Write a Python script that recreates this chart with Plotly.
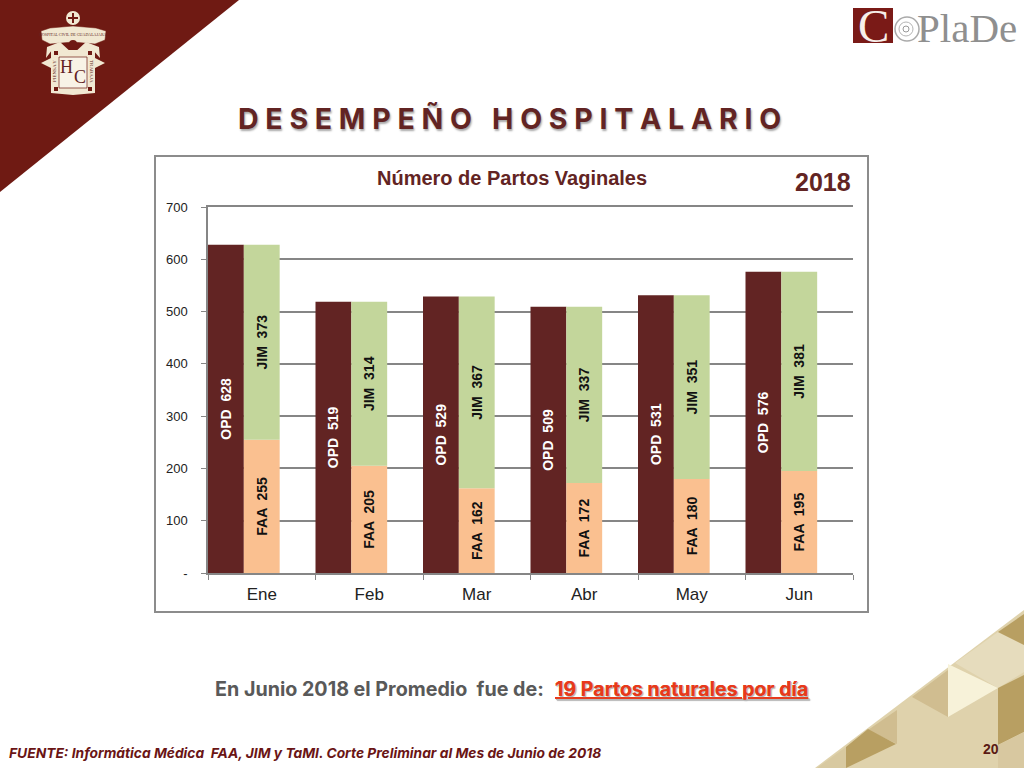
import plotly.graph_objects as go

# datos
meses = ["Ene", "Feb", "Mar", "Abr", "May", "Jun"]
opd = [628, 519, 529, 509, 531, 576]
jim = [373, 314, 367, 337, 351, 381]
faa = [255, 205, 162, 172, 180, 195]
y_ticks = [0, 100, 200, 300, 400, 500, 600, 700]
y_labels = ["-", "100", "200", "300", "400", "500", "600", "700"]

W, H = 1024, 768
GUINDA = "#6f1a13"
VINO = "#622423"
CREMA = "#f1e8d2"
ARIAL = "Liberation Sans, Arial, sans-serif"
GOTHIC = "Inter, Lato, sans-serif"
SERIF = "Liberation Serif, serif"


def px(x):
    return x / W


def py(y):
    return 1 - y / H


def poly(puntos, fill, line=None, width=0):
    path = "M " + " L ".join(f"{px(x):.5f} {py(y):.5f}" for x, y in puntos) + " Z"
    return dict(type="path", xref="paper", yref="paper", path=path, fillcolor=fill,
                line=dict(color=line or fill, width=width), layer="below")


def rect(x0, y0, x1, y1, fill="rgba(0,0,0,0)", line=None, width=0):
    return dict(type="rect", xref="paper", yref="paper", x0=px(x0), x1=px(x1),
                y0=py(y0), y1=py(y1), fillcolor=fill,
                line=dict(color=line or fill, width=width), layer="below")


def circ(cx, cy, r, fill="rgba(0,0,0,0)", line=None, width=0):
    return dict(type="circle", xref="paper", yref="paper", x0=px(cx - r), x1=px(cx + r),
                y0=py(cy + r), y1=py(cy - r), fillcolor=fill,
                line=dict(color=line or fill, width=width), layer="below")


def texto(x, y, s, size, color, family=GOTHIC, anchor="left", shadow=None, angle=0):
    fuente = dict(family=family, size=size, color=color)
    if shadow:
        fuente["shadow"] = shadow
    return dict(xref="paper", yref="paper", x=px(x), y=py(y), text=s, showarrow=False,
                xanchor=anchor, yanchor="middle", font=fuente, textangle=angle,
                borderpad=0, borderwidth=0)


def barra(valores, etiqueta, color, offset, color_texto, base=None):
    return go.Bar(
        x=meses, y=valores, base=base, name=etiqueta,
        marker=dict(color=color, line=dict(width=0)),
        width=1 / 3, offset=offset,
        text=[f"<b>{etiqueta}  {v}</b>" for v in valores], textangle=-90, textposition="inside",
        insidetextanchor="middle", constraintext="none",
        textfont=dict(family=ARIAL, size=14, color=color_texto),
    )


fig = go.Figure()

# OPD va solo, FAA y JIM apilados con base
fig.add_trace(barra(opd, "OPD", VINO, -0.5, "white"))
fig.add_trace(barra(faa, "FAA", "#fac090", -1 / 6, "#111111"))
fig.add_trace(barra(jim, "JIM", "#c3d69b", -1 / 6, "#111111", base=faa))

shapes = [
    # triangulo guinda
    poly([(0, 0), (239, 0), (0, 192)], GUINDA),
    # marco de la grafica
    rect(155, 156, 868, 612, fill="white", line="#8c8c8c", width=2),
    # esquina inferior derecha
    poly([(815, 768), (1024, 610), (1024, 768)], "#dfd2ac"),
    poly([(955, 663), (998, 632), (1024, 645), (1024, 672), (998, 688)], "#e6dcbd"),
    poly([(998, 632), (1024, 614), (1024, 645)], "#b89f62"),
    poly([(948, 664), (998, 688), (948, 717)], "#f7f2d9"),
    poly([(912, 697), (948, 670), (948, 717)], "#d0bd90"),
    poly([(998, 688), (1024, 675), (1024, 732), (998, 745)], "#b89f62"),
    poly([(868, 730), (897, 710), (897, 744)], "#d0bd90"),
    poly([(846, 747), (868, 729), (896, 744), (846, 768)], "#b89f62"),
    poly([(817, 768), (846, 747), (846, 768)], "#d8c9a0"),
    poly([(998, 745), (1024, 732), (1024, 768), (998, 768)], "#d8c8a0"),
    # escudo
    circ(73, 18, 7, fill=CREMA, line=CREMA),
    rect(72, 13, 74, 23, fill=GUINDA),
    rect(68, 17, 78, 19, fill=GUINDA),
    poly([(41, 31), (50, 28), (73, 26), (96, 28), (106, 31), (105, 40), (95, 44), (73, 42), (50, 44), (42, 40)],
         CREMA, line=GUINDA, width=0.5),
    poly([(47, 47), (60, 42), (73, 54), (86, 42), (99, 47), (100, 58), (93, 50), (52, 50), (46, 58)],
         CREMA),
    poly([(51, 50), (95, 50), (95, 93), (73, 95), (51, 93)], CREMA),
    poly([(41, 63), (51, 58), (51, 68)], CREMA),
    poly([(105, 63), (95, 58), (95, 68)], CREMA),
    rect(59, 57, 87, 88, fill="#f8f3e6", line=GUINDA, width=0.7),
    rect(54, 51, 58, 55, fill=GUINDA),
    rect(88, 51, 92, 55, fill=GUINDA),
    rect(54, 87, 58, 91, fill=GUINDA),
    rect(88, 87, 92, 91, fill=GUINDA),
    circ(73, 44, 4, fill=GUINDA),
    # logo CoPlaDe
    rect(853, 8, 893, 43, fill="#7a1a17"),
    circ(907, 29, 12, fill="white", line="#aaaaaa", width=1.5),
    circ(906, 29, 7, line="#b5b5b5", width=1),
    circ(906, 29, 3, line="#999999", width=1),
]

annotations = [
    texto(509, 119, "<b>D E S E M P E Ñ O   H O S P I T A L A R I O</b>", 28.5, VINO, anchor="center",
          shadow="1px 2px 2px #a9a9a9"),
    texto(512, 178, "<b>Número de Partos Vaginales</b>", 20, VINO, family=ARIAL, anchor="center"),
    texto(823, 182, "<b>2018</b>", 25, VINO, family=ARIAL, anchor="center"),
    texto(215, 689, "<b>En Junio 2018 el Promedio  fue de:</b>", 19.7, "#595959"),
    texto(555, 689, "<b><u>19 Partos naturales por día</u></b>", 19.6, "#e8391a",
          shadow="1px 1px 1px #b9b9b9"),
    texto(9, 753, "<b><i>FUENTE: Informática Médica  FAA, JIM y TaMI. Corte Preliminar al Mes de Junio de 2018</i></b>",
          13.8, "#6a1515"),
    texto(991, 749, "<b>20</b>", 14, "#5a1a14", family=ARIAL, anchor="center"),
    texto(873, 26, "C", 47, "#f6eeea", family=SERIF, anchor="center"),
    texto(917, 28, "PlaDe", 41, "#8f8f8f", family=SERIF),
    texto(66, 67, "H", 18, VINO, family=SERIF, anchor="center"),
    texto(80, 77, "C", 18, VINO, family=SERIF, anchor="center"),
    texto(73, 34, "HOSPITAL CIVIL DE GUADALAJARA", 4, VINO, family=SERIF, anchor="center"),
    texto(55, 71, "PIENSA Y", 5, VINO, family=SERIF, anchor="center", angle=-90),
    texto(91, 71, "TRABAJA", 5, VINO, family=SERIF, anchor="center", angle=90),
]

fig.update_layout(
    width=W, height=H, margin=dict(l=0, r=0, t=0, b=0, autoexpand=False),
    paper_bgcolor="white", plot_bgcolor="rgba(0,0,0,0)",
    barmode="overlay", showlegend=False,
    shapes=shapes, annotations=annotations,
    xaxis=dict(
        domain=[px(208), px(853)], type="category", categoryorder="array", categoryarray=meses,
        range=[-0.5, 5.5], tickson="boundaries", ticks="outside", ticklen=5, tickcolor="#868686",
        ticklabelstandoff=5, mirror=True,
        showline=True, linecolor="#868686", linewidth=1.5, showgrid=False, zeroline=False,
        tickfont=dict(family=ARIAL, size=17, color="#222222"),
    ),
    yaxis=dict(
        domain=[py(573), py(207)], range=[0, 700], tickvals=y_ticks, ticktext=y_labels,
        ticks="outside", ticklen=5, tickcolor="#868686", ticklabelstandoff=11,
        showline=True, linecolor="#868686", linewidth=1.5,
        showgrid=True, gridcolor="#868686", gridwidth=1.5, zeroline=False,
        tickfont=dict(family=ARIAL, size=13, color="#222222"),
    ),
)

fig.write_html("out.html", config=dict(displayModeBar=False),
               post_script="document.body.style.margin='0';document.body.style.overflow='hidden';")
